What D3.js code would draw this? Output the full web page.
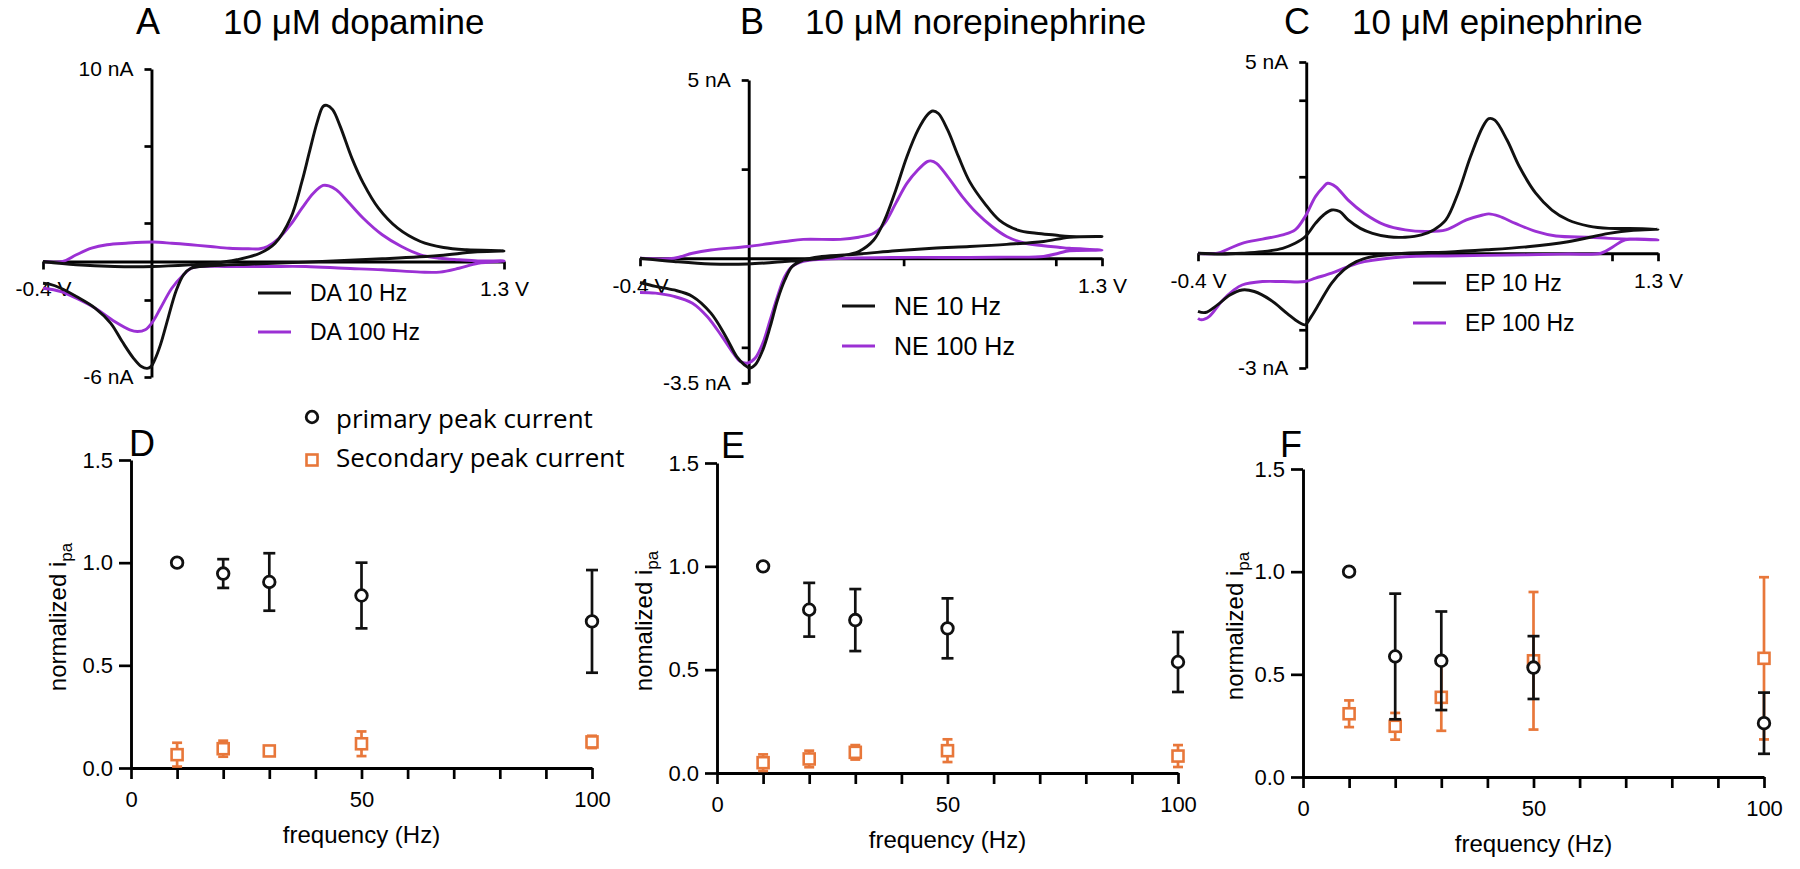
<!DOCTYPE html>
<html>
<head>
<meta charset="utf-8">
<script src="https://cdn.jsdelivr.net/npm/d3@7"></script>
<style>
  body { margin: 0; background: #fff; }
  svg { display: block; }
  text { font-family: "Liberation Sans", Arial, sans-serif; fill: #000; }
</style>
</head>
<body>
<svg id="chart" width="1800" height="869"></svg>
<script>
// ---------------- DATA ----------------
// Cyclic voltammograms: [potential (V), current (nA)], forward scan then reverse scan
const da10 = [[-0.4,0],[-0.277,-0.17],[-0.136,-0.26],[0.005,-0.26],[0.146,-0.17],[0.231,-0.09],[0.315,0.09],[0.4,0.43],[0.456,0.95],[0.513,2.25],[0.555,4.16],[0.583,5.72],[0.612,7.28],[0.633,8.06],[0.647,8.11],[0.668,7.89],[0.696,7.02],[0.739,5.37],[0.781,4.07],[0.837,2.77],[0.908,1.73],[0.992,1.04],[1.077,0.73],[1.162,0.61],[1.3,0.55],
  [1.19,0.49],[1.063,0.31],[0.851,0.14],[0.569,-0.03],[0.358,-0.14],[0.217,-0.23],[0.146,-0.35],[0.118,-0.69],[0.09,-1.56],[0.061,-2.95],[0.033,-4.33],[0.012,-5.11],[-0.002,-5.46],[-0.016,-5.55],[-0.037,-5.46],[-0.066,-5.03],[-0.108,-4.16],[-0.15,-3.21],[-0.207,-2.43],[-0.277,-1.82],[-0.334,-1.39],[-0.376,-1.18],[-0.4,-1.13]];
const da100 = [[-0.4,0],[-0.327,0],[-0.277,0.35],[-0.221,0.69],[-0.164,0.87],[-0.094,0.95],[0.005,1.01],[0.075,0.95],[0.146,0.87],[0.217,0.78],[0.287,0.69],[0.358,0.66],[0.4,0.66],[0.428,0.78],[0.47,1.21],[0.513,1.91],[0.555,2.77],[0.597,3.55],[0.633,3.95],[0.654,3.93],[0.682,3.72],[0.724,3.12],[0.781,2.25],[0.851,1.39],[0.922,0.78],[0.992,0.35],[1.063,0.17],[1.134,0.09],[1.204,0.03],[1.3,0.03],
  [1.204,-0.09],[1.134,-0.35],[1.063,-0.55],[0.992,-0.55],[0.851,-0.43],[0.71,-0.35],[0.569,-0.26],[0.428,-0.26],[0.287,-0.26],[0.174,-0.26],[0.146,-0.35],[0.118,-0.69],[0.075,-1.39],[0.033,-2.43],[0.005,-3.12],[-0.023,-3.55],[-0.052,-3.64],[-0.08,-3.55],[-0.136,-3.12],[-0.207,-2.43],[-0.277,-1.91],[-0.334,-1.56],[-0.4,-1.39]];
const ne10 = [[-0.4,0],[-0.275,-0.09],[-0.139,-0.16],[-0.003,-0.16],[0.133,-0.09],[0.269,0],[0.337,0.07],[0.405,0.19],[0.46,0.51],[0.5,1.07],[0.541,1.91],[0.582,2.85],[0.623,3.6],[0.657,4.02],[0.677,4.13],[0.698,4.06],[0.732,3.6],[0.772,2.85],[0.813,2.15],[0.868,1.54],[0.922,1.07],[0.99,0.79],[1.058,0.7],[1.126,0.65],[1.18,0.61],[1.3,0.61],
  [1.18,0.59],[1.085,0.47],[0.949,0.39],[0.813,0.33],[0.677,0.28],[0.541,0.21],[0.405,0.12],[0.269,0.05],[0.201,-0.05],[0.16,-0.23],[0.133,-0.61],[0.106,-1.17],[0.079,-1.92],[0.052,-2.57],[0.024,-2.99],[0.004,-3.08],[-0.016,-2.99],[-0.044,-2.76],[-0.084,-2.2],[-0.139,-1.54],[-0.207,-1.07],[-0.275,-0.89],[-0.343,-0.79],[-0.4,-0.68]];
const ne100 = [[-0.4,0],[-0.275,0],[-0.207,0.14],[-0.139,0.23],[-0.003,0.33],[0.133,0.47],[0.201,0.53],[0.337,0.53],[0.405,0.59],[0.46,0.7],[0.5,0.98],[0.541,1.54],[0.582,2.1],[0.623,2.48],[0.657,2.71],[0.67,2.73],[0.691,2.66],[0.732,2.29],[0.786,1.73],[0.84,1.26],[0.895,0.89],[0.949,0.61],[1.017,0.42],[1.085,0.35],[1.14,0.31],[1.18,0.28],[1.3,0.23],
  [1.18,0.21],[1.14,0.14],[1.085,0.05],[0.949,0.03],[0.813,0.02],[0.541,0.02],[0.269,-0.03],[0.201,-0.09],[0.16,-0.23],[0.133,-0.51],[0.106,-1.07],[0.079,-1.73],[0.052,-2.38],[0.024,-2.8],[-0.003,-2.94],[-0.03,-2.9],[-0.057,-2.66],[-0.098,-2.2],[-0.152,-1.64],[-0.207,-1.26],[-0.275,-1.07],[-0.343,-0.98],[-0.4,-0.96]];
const ep10 = [[-0.4,0],[-0.313,-0.02],[-0.237,0],[-0.162,0.04],[-0.087,0.13],[-0.041,0.26],[-0.004,0.43],[0.034,0.78],[0.064,1.0],[0.094,1.13],[0.124,1.09],[0.155,0.87],[0.2,0.65],[0.245,0.52],[0.305,0.43],[0.366,0.42],[0.426,0.48],[0.471,0.61],[0.516,0.87],[0.561,1.57],[0.607,2.52],[0.652,3.3],[0.675,3.52],[0.697,3.48],[0.742,2.96],[0.788,2.26],[0.848,1.57],[0.908,1.13],[0.968,0.87],[1.044,0.71],[1.119,0.65],[1.194,0.65],[1.3,0.63],
  [1.209,0.6],[1.119,0.52],[0.968,0.3],[0.818,0.17],[0.667,0.09],[0.516,0.03],[0.366,0],[0.245,-0.09],[0.185,-0.22],[0.14,-0.43],[0.094,-0.78],[0.049,-1.3],[0.019,-1.65],[-0.004,-1.87],[-0.026,-1.81],[-0.071,-1.57],[-0.132,-1.22],[-0.192,-1.0],[-0.237,-0.96],[-0.282,-1.09],[-0.328,-1.35],[-0.373,-1.55],[-0.4,-1.52]];
const ep100 = [[-0.4,0],[-0.328,0],[-0.282,0.13],[-0.237,0.26],[-0.162,0.37],[-0.087,0.48],[-0.041,0.61],[-0.004,0.96],[0.034,1.48],[0.064,1.74],[0.079,1.83],[0.109,1.74],[0.155,1.39],[0.215,1.04],[0.29,0.74],[0.366,0.61],[0.441,0.57],[0.516,0.61],[0.592,0.87],[0.652,1.0],[0.675,1.03],[0.712,0.97],[0.773,0.78],[0.848,0.57],[0.923,0.45],[1.044,0.42],[1.119,0.39],[1.194,0.37],[1.3,0.35],
  [1.179,0.35],[1.134,0.17],[1.089,0],[0.968,-0.02],[0.818,-0.04],[0.516,-0.07],[0.366,-0.09],[0.215,-0.22],[0.155,-0.35],[0.094,-0.52],[0.034,-0.65],[-0.004,-0.74],[-0.087,-0.74],[-0.162,-0.74],[-0.237,-0.83],[-0.267,-0.96],[-0.313,-1.26],[-0.358,-1.65],[-0.388,-1.74],[-0.4,-1.7]];

// Normalized peak currents vs stimulation frequency (mean, error)
const freqs = [10, 20, 30, 50, 100];
const daPrimary      = [1.00, 0.947, 0.906, 0.840, 0.714];
const daPrimaryErr   = [0, 0.07, 0.14, 0.16, 0.25];
const daSecondary    = [0.065, 0.094, 0.083, 0.118, 0.127];
const daSecondaryErr = [0.058, 0.039, 0.012, 0.06, 0.03];
const nePrimary      = [1.00, 0.79, 0.74, 0.70, 0.537];
const nePrimaryErr   = [0, 0.13, 0.15, 0.145, 0.145];
const neSecondary    = [0.05, 0.068, 0.10, 0.108, 0.082];
const neSecondaryErr = [0.04, 0.04, 0.035, 0.055, 0.053];
const epPrimary      = [1.00, 0.587, 0.566, 0.533, 0.262];
const epPrimaryErr   = [0, 0.306, 0.24, 0.153, 0.149];
const epSecondary    = [0.308, 0.247, 0.388, 0.566, 0.578];
const epSecondaryErr = [0.065, 0.065, 0.163, 0.335, 0.395];

const yTickValues = [0, 0.5, 1.0, 1.5];
const xTickValues = [0, 10, 20, 30, 40, 50, 60, 70, 80, 90, 100];

// ---------------- DRAW ----------------
const BLACK = "#111", PURPLE = "#9B30D4", ORANGE = "#E8773A";
const svg = d3.select("#chart");

function styleAxis(g, size) {
  g.attr("font-size", null).attr("font-family", null);
  g.selectAll("path.domain").attr("stroke", "#000").attr("stroke-width", 2.9);
  g.selectAll(".tick line").attr("stroke", "#000").attr("stroke-width", 2.7);
  g.selectAll(".tick text").style("font-size", size + "px").attr("fill", "#000");
}

const cvPanels = [
  { letter: "A", title: "10 μM dopamine", traces: [da10, da100], names: ["DA 10 Hz", "DA 100 Hz"],
    yDom: [-6, 10], yTicks: [10, 6, 2, -2, -6], yTop: "10 nA", yBot: "-6 nA", xExtra: [],
    xr: [43, 504], yr: [377, 69], letterX: 136, titleX: 223, legX: 258, legY: [293, 332], legFont: 23 },
  { letter: "B", title: "10 μM norepinephrine", traces: [ne10, ne100], names: ["NE 10 Hz", "NE 100 Hz"],
    yDom: [-3.5, 5], yTicks: [5, 2.5, -2.5, -3.5], yTop: "5 nA", yBot: "-3.5 nA", xExtra: [0.57, 1.13],
    xr: [640, 1102], yr: [383, 80], letterX: 740, titleX: 805, legX: 842, legY: [306, 346], legFont: 25 },
  { letter: "C", title: "10 μM epinephrine", traces: [ep10, ep100], names: ["EP 10 Hz", "EP 100 Hz"],
    yDom: [-3, 5], yTicks: [5, 4, 2, -2, -3], yTop: "5 nA", yBot: "-3 nA", xExtra: [1.13],
    xr: [1198, 1658], yr: [368, 62], letterX: 1284, titleX: 1352, legX: 1413, legY: [283, 323], legFont: 23 }
];

cvPanels.forEach(p => {
  const x = d3.scaleLinear().domain([-0.4, 1.3]).range(p.xr);
  const y = d3.scaleLinear().domain(p.yDom).range(p.yr);
  const g = svg.append("g");

  g.append("text").attr("x", p.letterX).attr("y", 34).style("font-size", "36px").text(p.letter);
  g.append("text").attr("x", p.titleX).attr("y", 34).style("font-size", "35px").text(p.title);

  const xa = g.append("g").attr("transform", `translate(0,${y(0)})`)
    .call(d3.axisBottom(x).tickValues([-0.4, ...p.xExtra, 1.3]).tickSize(8).tickSizeOuter(0).tickPadding(12)
      .tickFormat(d => d === -0.4 ? "-0.4 V" : d === 1.3 ? "1.3 V" : ""));
  styleAxis(xa, 21);

  const ya = g.append("g").attr("transform", `translate(${x(0)},0)`)
    .call(d3.axisLeft(y).tickValues(p.yTicks).tickSize(7).tickSizeOuter(0).tickPadding(11)
      .tickFormat(d => d === p.yDom[1] ? p.yTop : d === p.yDom[0] ? p.yBot : ""));
  styleAxis(ya, 21);

  const line = d3.line().x(d => x(d[0])).y(d => y(d[1])).curve(d3.curveCatmullRom.alpha(0.5));
  [PURPLE, BLACK].forEach(c => {
    const tr = p.traces[c === BLACK ? 0 : 1];
    g.append("path").datum(tr).attr("d", line).attr("fill", "none")
      .attr("stroke", c).attr("stroke-width", 2.9).attr("stroke-linejoin", "round");
  });

  [BLACK, PURPLE].forEach((c, i) => {
    g.append("line").attr("x1", p.legX).attr("x2", p.legX + 33)
      .attr("y1", p.legY[i]).attr("y2", p.legY[i]).attr("stroke", c).attr("stroke-width", 3);
    g.append("text").attr("x", p.legX + 52).attr("y", p.legY[i]).attr("dy", "0.35em")
      .style("font-size", p.legFont + "px").text(p.names[i]);
  });
});

// ---- Bottom panels ----
const freqPanels = [
  { letter: "D", ylab: "normalized i", prim: daPrimary, primErr: daPrimaryErr, sec: daSecondary, secErr: daSecondaryErr,
    xr: [131, 592], yr: [768, 460], letterX: 129, letterY: 456, ylabX: 66 },
  { letter: "E", ylab: "nomalized i", prim: nePrimary, primErr: nePrimaryErr, sec: neSecondary, secErr: neSecondaryErr,
    xr: [717, 1178], yr: [773, 463], letterX: 721, letterY: 458, ylabX: 652 },
  { letter: "F", ylab: "normalized i", prim: epPrimary, primErr: epPrimaryErr, sec: epSecondary, secErr: epSecondaryErr,
    xr: [1303, 1764], yr: [777, 469], letterX: 1280, letterY: 457, ylabX: 1243 }
];

function drawCircle(g, cx, cy) {
  g.append("circle").attr("cx", cx).attr("cy", cy).attr("r", 5.8)
    .attr("fill", "#fff").attr("stroke", BLACK).attr("stroke-width", 2.8);
}
function drawSquare(g, cx, cy) {
  g.append("rect").attr("x", cx - 5.5).attr("y", cy - 5.5).attr("width", 11).attr("height", 11)
    .attr("fill", "#fff").attr("stroke", ORANGE).attr("stroke-width", 2.6);
}
function errBar(g, x, yLo, yHi, color, cap) {
  g.append("line").attr("x1", x).attr("x2", x).attr("y1", yLo).attr("y2", yHi)
    .attr("stroke", color).attr("stroke-width", 2.7);
  [yLo, yHi].forEach(yy => g.append("line").attr("x1", x - cap / 2).attr("x2", x + cap / 2)
    .attr("y1", yy).attr("y2", yy).attr("stroke", color).attr("stroke-width", 2.7));
}

freqPanels.forEach(p => {
  const x = d3.scaleLinear().domain([0, 100]).range(p.xr);
  const y = d3.scaleLinear().domain([0, 1.5]).range(p.yr);
  const g = svg.append("g");

  const xa = g.append("g").attr("transform", `translate(0,${p.yr[0]})`)
    .call(d3.axisBottom(x).tickValues(xTickValues).tickSize(11).tickSizeOuter(0).tickPadding(12)
      .tickFormat(d => d % 50 === 0 ? d : ""));
  styleAxis(xa, 22);
  const ya = g.append("g").attr("transform", `translate(${p.xr[0]},0)`)
    .call(d3.axisLeft(y).tickValues(yTickValues).tickSize(12).tickSizeOuter(0).tickPadding(6)
      .tickFormat(d3.format(".1f")));
  styleAxis(ya, 22);

  g.append("text").attr("x", p.letterX).attr("y", p.letterY).style("font-size", "36px").text(p.letter);

  g.append("text").attr("x", (p.xr[0] + p.xr[1]) / 2).attr("y", p.yr[0] + 75)
    .attr("text-anchor", "middle").style("font-size", "24px").text("frequency (Hz)");

  const yl = g.append("text").attr("text-anchor", "middle")
    .attr("transform", `translate(${p.ylabX},${(p.yr[0] + p.yr[1]) / 2 + 3}) rotate(-90)`)
    .style("font-size", "24px");
  yl.append("tspan").text(p.ylab);
  yl.append("tspan").attr("dy", 6).style("font-size", "17px").text("pa");

  // secondary first (orange), then primary (black) on top
  freqs.forEach((f, i) => {
    if (p.secErr[i] > 0) errBar(g, x(f), y(p.sec[i] - p.secErr[i]), y(p.sec[i] + p.secErr[i]), ORANGE, 10);
    drawSquare(g, x(f), y(p.sec[i]));
  });
  freqs.forEach((f, i) => {
    if (p.primErr[i] > 0) errBar(g, x(f), y(p.prim[i] - p.primErr[i]), y(p.prim[i] + p.primErr[i]), BLACK, 12);
    drawCircle(g, x(f), y(p.prim[i]));
  });
});

// legend for D-F
const lg = svg.append("g");
drawCircle(lg, 312, 417);
drawSquare(lg, 312, 460);
lg.append("text").attr("x", 336).attr("y", 428).style("font-family", "'Open Sans', sans-serif")
  .style("font-size", "26px").text("primary peak current");
lg.append("text").attr("x", 336).attr("y", 467).style("font-family", "'Open Sans', sans-serif")
  .style("font-size", "26px").text("Secondary peak current");
</script>
</body>
</html>
